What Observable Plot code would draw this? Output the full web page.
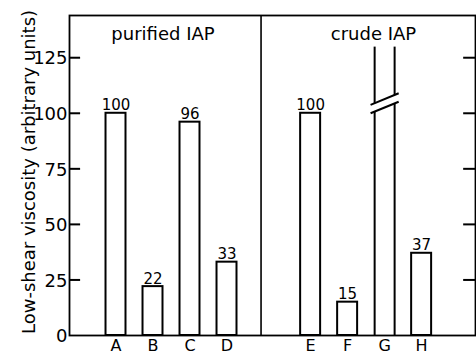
<!DOCTYPE html>
<html><head><meta charset="utf-8">
<script src="https://cdn.jsdelivr.net/npm/d3@7"></script>
<script src="https://cdn.jsdelivr.net/npm/@observablehq/plot@0.6"></script>
<style>body{margin:0;background:#fff}</style>
</head><body><div id="chart"></div>
<script>
const groups = ["purified IAP", "crude IAP"];
const purifiedSamples = ["A", "B", "C", "D"];
const purifiedValues = [100, 22, 96, 33];
const crudeSamples = ["E", "F", "G", "H"];
const crudeValues = [100, 15, null, 37]; // G runs off the scale (broken bar)
const yTicks = [0, 25, 50, 75, 100, 125];
const yLabel = "Low-shear viscosity (arbitrary units)";

// layout constants (x in slot units, one slot per bar)
const groupStart = [0, 5.26];
const titleCenter = [1.27, 1.7];
const divider = 3.92;
const halfBar = 0.27;
const xDomain = [-1.257, 9.716];
const yDomain = [0, 144];

const rows = [
  ...purifiedSamples.map((s, i) => ({group: 0, sample: s, value: purifiedValues[i], pos: groupStart[0] + i})),
  ...crudeSamples.map((s, i) => ({group: 1, sample: s, value: crudeValues[i], pos: groupStart[1] + i}))
];
const bars = rows.filter(d => d.value != null);
const broken = rows.filter(d => d.value == null);

// broken-bar symbol
const brkTop = 130, brkLow = 100, brkGap = 3.8, brkHalf = 0.38, brkRise = 5.2;
const slashY = (o, base) => base + (o + brkHalf) / (2 * brkHalf) * brkRise;
const breakSegs = [];
broken.forEach(d => {
  [-halfBar, halfBar].forEach(o => {
    breakSegs.push({x1: d.pos + o, x2: d.pos + o, y1: 0, y2: slashY(o, brkLow)});
    breakSegs.push({x1: d.pos + o, x2: d.pos + o, y1: slashY(o, brkLow + brkGap), y2: brkTop});
  });
  [brkLow, brkLow + brkGap].forEach(b =>
    breakSegs.push({x1: d.pos - brkHalf, x2: d.pos + brkHalf, y1: b, y2: b + brkRise}));
});

const innerTicks = yTicks.filter(t => t > 0);

const chart = Plot.plot({
  width: 476,
  height: 354,
  marginLeft: 69,
  marginRight: 1,
  marginTop: 15,
  marginBottom: 19,
  style: {fontFamily: "DejaVu Sans", background: "white", color: "black"},
  x: {type: "linear", domain: xDomain, axis: null},
  y: {domain: yDomain},
  marks: [
    Plot.rectY(bars, {x1: d => d.pos - halfBar, x2: d => d.pos + halfBar, y1: 0, y2: "value",
      fill: "white", stroke: "black", strokeWidth: 2}),
    Plot.link(breakSegs, {x1: "x1", y1: "y1", x2: "x2", y2: "y2", stroke: "black", strokeWidth: 2}),
    Plot.ruleX([divider], {stroke: "black", strokeWidth: 1.6}),
    Plot.ruleY(innerTicks, {y: d => d, x1: xDomain[0], x2: xDomain[0] + 0.3, stroke: "black", strokeWidth: 2}),
    Plot.ruleY(innerTicks, {y: d => d, x1: xDomain[1] - 0.32, x2: xDomain[1], stroke: "black", strokeWidth: 2}),
    Plot.frame({stroke: "black", strokeWidth: 1.8}),
    Plot.axisY({ticks: yTicks, tickSize: 0, tickPadding: 2, fontSize: 18, label: null, dy: 1}),
    Plot.text([yLabel], {text: d => d, frameAnchor: "left", textAnchor: "middle", lineAnchor: "middle",
      rotate: -90, dx: -40, dy: -3.5, fontSize: 18}),
    Plot.text(rows, {x: "pos", text: "sample", frameAnchor: "bottom", lineAnchor: "top", dy: 4, fontSize: 16}),
    Plot.text(bars, {x: "pos", y: "value", text: d => String(d.value), lineAnchor: "bottom", dy: -3, fontSize: 15}),
    Plot.text(groups, {x: (d, i) => groupStart[i] + titleCenter[i], text: d => d, frameAnchor: "top",
      lineAnchor: "top", dy: 12, fontSize: 18})
  ]
});
document.getElementById("chart").append(chart);
</script>
</body></html>
